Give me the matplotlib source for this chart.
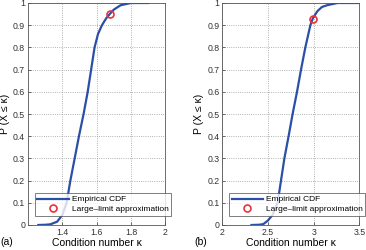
import matplotlib
matplotlib.use("Agg")
import matplotlib.pyplot as plt
import numpy as np

plt.rcParams['font.family'] = ['Liberation Sans', 'DejaVu Sans']

# panel (a): empirical CDF
kappa_a = [1.26, 1.30, 1.33, 1.37, 1.40, 1.425, 1.447, 1.472, 1.497, 1.524, 1.548, 1.568, 1.588, 1.608, 1.631, 1.655, 1.676, 1.70, 1.74, 1.80, 1.90]
cdf_a = [0.0, 0.001, 0.003, 0.015, 0.045, 0.10, 0.20, 0.30, 0.40, 0.50, 0.60, 0.70, 0.80, 0.86, 0.90, 0.93, 0.95, 0.97, 0.99, 1.0, 1.0]
approx_a = (1.676, 0.95)

# panel (b)
kappa_b = [2.32, 2.40, 2.45, 2.50, 2.55, 2.606, 2.643, 2.68, 2.726, 2.77, 2.818, 2.862, 2.909, 2.964, 2.99, 3.04, 3.09, 3.147, 3.26, 3.50]
cdf_b = [0.0, 0.001, 0.004, 0.02, 0.045, 0.10, 0.20, 0.30, 0.40, 0.50, 0.60, 0.70, 0.80, 0.90, 0.93, 0.963, 0.982, 0.99, 1.0, 1.0]
approx_b = (2.99, 0.93)

line_col = '#2b4ea6'
fig = plt.figure(figsize=(3.66, 2.5), dpi=100)

panels = [
    (kappa_a, cdf_a, approx_a, (1.2, 2.0), [1.4, 1.6, 1.8, 2.0], ['1.4', '1.6', '1.8', '2'], 0.0765, '(a)'),
    (kappa_b, cdf_b, approx_b, (2.0, 3.5), [2.0, 2.5, 3.0, 3.5], ['2', '2.5', '3', '3.5'], 0.607, '(b)'),
]

for kx, cy, pt, xl, xt, xtl, left, tag in panels:
    ax = fig.add_axes([left, 0.10, 0.375, 0.888])
    ax.plot(kx, cy, color=line_col, lw=1.6, label='Empirical CDF')
    ax.plot([pt[0]], [pt[1]], 'o', mfc='none', mec='#e8333a', mew=1.2, ms=5,
            label='Large\u2013limit approximation')
    ax.set_xlim(*xl)
    ax.set_ylim(0, 1)
    ax.set_xticks(xt)
    ax.set_xticklabels(xtl)
    ax.set_yticks(np.arange(0, 1.01, 0.1))
    ax.set_yticklabels(['0', '0.1', '0.2', '0.3', '0.4', '0.5', '0.6', '0.7', '0.8', '0.9', '1'])
    ax.tick_params(labelsize=6.3, length=2, width=0.5, direction='in', pad=2, colors='#333333')
    ax.grid(True, linestyle=':', color='#999999', lw=0.6)
    for s in ax.spines.values():
        s.set_linewidth(0.6)
        s.set_color('#555555')
    ax.set_xlabel('Condition number \u03ba', fontsize=7.5, labelpad=1)
    ax.set_ylabel('P (X \u2264 \u03ba)', fontsize=7.5, labelpad=2)
    leg = ax.legend(loc='lower right', bbox_to_anchor=(1.06, 0.03), fontsize=6,
                    frameon=True, fancybox=False, edgecolor='#444444',
                    handlelength=3.8, borderpad=0.3, labelspacing=0.25, handletextpad=0.3,
                    borderaxespad=0.3)
    leg.get_frame().set_linewidth(0.6)
    ax.text(-0.2, -0.075, tag, transform=ax.transAxes, fontsize=7.5, va='center')

fig.savefig('out.png', dpi=100)
